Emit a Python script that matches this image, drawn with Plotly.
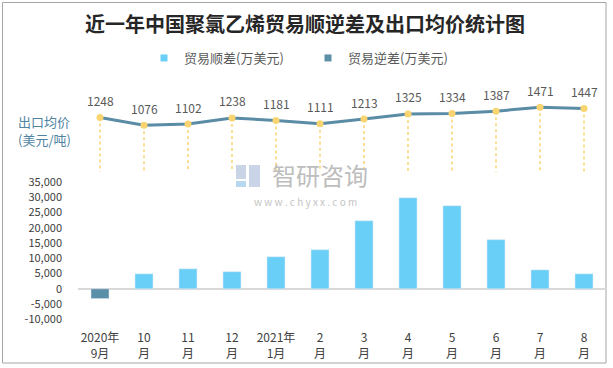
import plotly.graph_objects as go

# ---------------- data ----------------
months = ["2020年<br>9月", "10<br>月", "11<br>月", "12<br>月", "2021年<br>1月", "2<br>月",
          "3<br>月", "4<br>月", "5<br>月", "6<br>月", "7<br>月", "8<br>月"]
surplus = [None, 4900, 6550, 5600, 10500, 12800, 22300, 29800, 27200, 16100, 6200, 4900]
deficit = [-3200, None, None, None, None, None, None, None, None, None, None, None]
export_price = [1248, 1076, 1102, 1238, 1181, 1111, 1213, 1325, 1334, 1387, 1471, 1447]
bar_ticks = [35000, 30000, 25000, 20000, 15000, 10000, 5000, 0, -5000, -10000]
drop_base = 50  # bottom of dotted drop lines (price axis units)

# ---------------- layout geometry ----------------
W_FIG, H_FIG = 613, 368
L, R, T, B = 78, 7, 80, 43
PW, PH = W_FIG - L - R, H_FIG - T - B


def px(x):
    return (x - L) / PW


def py(y):
    return 1 - (y - T) / PH


C_POS = "#6ACFF6"
C_NEG = "#5B8FA8"
C_LINE = "#5A8CA5"
C_DOT = "#F9D470"
FONT = "Noto Sans CJK SC"

fig = go.Figure()

fig.add_trace(go.Bar(x=months, y=surplus, marker_color=C_POS, width=0.41,
                     showlegend=False, name="贸易顺差(万美元)"))
fig.add_trace(go.Bar(x=months, y=deficit, marker_color=C_NEG, width=0.41,
                     showlegend=False, name="贸易逆差(万美元)"))

# dotted drop lines
dx, dy = [], []
for m, v in zip(months, export_price):
    dx += [m, m, None]
    dy += [v, drop_base, None]
fig.add_trace(go.Scatter(x=dx, y=dy, yaxis="y2", mode="lines",
                         line=dict(color=C_DOT, width=1.5, dash="dot"),
                         showlegend=False, hoverinfo="skip"))

fig.add_trace(go.Scatter(x=months, y=export_price, yaxis="y2", mode="lines+markers",
                         line=dict(color=C_LINE, width=3),
                         marker=dict(color=C_DOT, size=7),
                         showlegend=False, name="出口均价"))

# legend entries
fig.add_trace(go.Scatter(x=[None], y=[None], mode="markers", name="贸易顺差(万美元)",
                         marker=dict(symbol="square", color=C_POS, size=7)))
fig.add_trace(go.Scatter(x=[None], y=[None], mode="markers", name="贸易逆差(万美元)",
                         marker=dict(symbol="square", color=C_NEG, size=7)))

annotations = []
for m, v in zip(months, export_price):
    annotations.append(dict(x=m, y=v, xref="x", yref="y2", text=str(v), showarrow=False,
                            yshift=17, font=dict(size=12, color="#595959", family=FONT)))

for txt, yy in (("出口均价", 121), ("(美元/吨)", 139)):
    annotations.append(dict(x=px(44), y=py(yy), xref="paper", yref="paper",
                            xanchor="center", yanchor="middle",
                            text=txt, showarrow=False,
                            font=dict(size=13, color="#4F83A2", family=FONT)))

# watermark
annotations.append(dict(x=px(320), y=py(174), xref="paper", yref="paper", text="智研咨询",
                        xanchor="center", yanchor="middle",
                        showarrow=False, font=dict(size=24, color="#BDBDBD", family=FONT)))
annotations.append(dict(x=px(305), y=py(201), xref="paper", yref="paper",
                        xanchor="center", yanchor="middle",
                        text="w w w . c h y x x . c o m",
                        showarrow=False, font=dict(size=10, color="#C4C4C4", family=FONT)))

shapes = [
    dict(type="rect", xref="paper", yref="paper", x0=px(2.5), x1=px(606), y0=py(2.5), y1=py(363),
         line=dict(color="#A6A6A6", width=1), layer="below"),
    dict(type="rect", xref="paper", yref="paper", x0=px(236), x1=px(246), y0=py(165), y1=py(179),
         line=dict(width=0), fillcolor="#C9D5E6"),
    dict(type="rect", xref="paper", yref="paper", x0=px(236), x1=px(246), y0=py(181), y1=py(187),
         line=dict(width=0), fillcolor="#B8D8F0"),
    dict(type="rect", xref="paper", yref="paper", x0=px(249), x1=px(260), y0=py(165), y1=py(187),
         line=dict(width=0), fillcolor="#C9D5E6"),
]

fig.update_layout(
    width=W_FIG, height=H_FIG,
    margin=dict(l=L, r=R, t=T, b=B),
    paper_bgcolor="white", plot_bgcolor="rgba(0,0,0,0)",
    font=dict(family=FONT, color="#404040"),
    title=dict(text="<b>近一年中国聚氯乙烯贸易顺逆差及出口均价统计图</b>",
               xref="container", yref="container",
               x=305 / W_FIG, xanchor="center", y=1 - 25 / H_FIG, yanchor="middle",
               font=dict(size=20, color="#262626", family=FONT)),
    barmode="overlay",
    showlegend=True,
    legend=dict(orientation="h", x=px(144), y=py(58), xanchor="left", yanchor="middle",
                font=dict(size=13, color="#595959", family=FONT),
                itemwidth=30, entrywidth=119, bgcolor="rgba(0,0,0,0)"),
    xaxis=dict(type="category", range=[-0.5, 11.5], showgrid=False, showline=False,
               ticks="", tickfont=dict(size=12, color="#404040"), ticklabelstandoff=4),
    yaxis=dict(range=[-11857, 68392], tickvals=bar_ticks,
               ticktext=[f"{v:,}" for v in bar_ticks],
               showgrid=False, zeroline=True, zerolinecolor="#D9D9D9", zerolinewidth=1.5,
               tickfont=dict(size=11, color="#404040"), ticklabelstandoff=15),
    yaxis2=dict(range=[-3306, 2070], overlaying="y", side="right", visible=False),
    annotations=annotations,
    shapes=shapes,
)

fig.write_html("out.html", config={"displayModeBar": False},
               post_script="document.body.style.margin='0';")
